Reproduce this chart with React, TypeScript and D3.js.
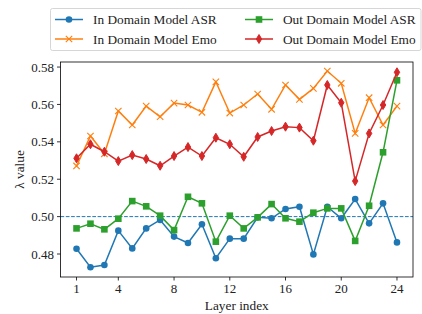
import * as d3 from 'd3';
import React from 'react';

// layer index 1..24
const layers = d3.range(1, 25);

const inAsr = [0.4828, 0.4729, 0.4741, 0.4925, 0.4830, 0.4937, 0.4982, 0.4893, 0.4859, 0.4959, 0.4777, 0.4882,
  0.4882, 0.4996, 0.4991, 0.5041, 0.5053, 0.4798, 0.5053, 0.4991, 0.5094, 0.4964, 0.5071, 0.4862];
const inEmo = [0.5271, 0.5431, 0.5336, 0.5565, 0.5490, 0.5591, 0.5534, 0.5607, 0.5597, 0.5558, 0.5721, 0.5554,
  0.5597, 0.5656, 0.5574, 0.5704, 0.5627, 0.5686, 0.5779, 0.5713, 0.5445, 0.5636, 0.5490, 0.5591];
const outAsr = [0.4937, 0.4962, 0.4932, 0.4989, 0.5083, 0.5055, 0.5005, 0.4928, 0.5106, 0.5071, 0.4866, 0.5005,
  0.4937, 0.4996, 0.5067, 0.4991, 0.4973, 0.5021, 0.5044, 0.5044, 0.4870, 0.5058, 0.5344, 0.5729];
const outEmo = [0.5312, 0.5387, 0.5347, 0.5297, 0.5329, 0.5308, 0.5272, 0.5324, 0.5372, 0.5324, 0.5422, 0.5387,
  0.5320, 0.5426, 0.5458, 0.5481, 0.5476, 0.5406, 0.5704, 0.5609, 0.5190, 0.5445, 0.5597, 0.5772];

const xTicks = [1, 4, 8, 12, 16, 20, 24];
const yTicks = [0.48, 0.5, 0.52, 0.54, 0.56, 0.58];

const series = [
  { name: 'In Domain Model ASR', values: inAsr, color: '#1f77b4', marker: 'circle' },
  { name: 'In Domain Model Emo', values: inEmo, color: '#ff7f0e', marker: 'x' },
  { name: 'Out Domain Model ASR', values: outAsr, color: '#2ca02c', marker: 'square' },
  { name: 'Out Domain Model Emo', values: outEmo, color: '#d62728', marker: 'diamond' },
];

const params = {
  left: 60.5,
  right: 413,
  top: 62,
  bottom: 277,
};

const serif = '"Liberation Serif", "Times New Roman", serif';

const Marker = ({ type, x, y, color }: { type: string; x: number; y: number; color: string }) => {
  if (type === 'circle') return <circle cx={x} cy={y} r={3.3} fill={color} />;
  if (type === 'square') return <rect x={x - 3.3} y={y - 3.3} width={6.6} height={6.6} fill={color} />;
  if (type === 'diamond')
    return <path d={`M${x},${y - 4.5} L${x + 2.7},${y} L${x},${y + 4.5} L${x - 2.7},${y} Z`} fill={color} stroke={color} strokeWidth={1} />;
  return (
    <path d={`M${x - 3.2},${y - 3.2} L${x + 3.2},${y + 3.2} M${x - 3.2},${y + 3.2} L${x + 3.2},${y - 3.2}`} stroke={color} strokeWidth={1.1} fill="none" />
  );
};

export default function App() {
  const x = d3.scaleLinear().domain([-0.15, 25.15]).range([params.left, params.right]);
  const y = d3.scaleLinear().domain([0.4677, 0.5827]).range([params.bottom, params.top]);
  const line = d3.line<number>().x((_, i) => x(layers[i])).y(d => y(d));

  // legend layout: two columns, column-major order like matplotlib
  const legendPos = [
    { lx: 55, ly: 19.5 },
    { lx: 55, ly: 39 },
    { lx: 245, ly: 19.5 },
    { lx: 245, ly: 39 },
  ];

  return (
    <svg width={422} height={314} style={{ position: 'absolute', left: 0, top: 0, background: '#fff' }}>
      {/* reference line at 0.5 */}
      <line x1={params.left} x2={params.right} y1={y(0.5)} y2={y(0.5)} stroke="#1f77b4" strokeWidth={1} strokeDasharray="3.7,1.6" />

      {series.map(s => (
        <g key={s.name}>
          <path d={line(s.values) || ''} fill="none" stroke={s.color} strokeWidth={1.5} />
          {s.values.map((v, i) => (
            <Marker key={i} type={s.marker} x={x(layers[i])} y={y(v)} color={s.color} />
          ))}
        </g>
      ))}

      {/* frame */}
      <rect x={params.left} y={params.top} width={params.right - params.left} height={params.bottom - params.top} fill="none" stroke="#000" strokeWidth={0.8} />

      {/* x axis */}
      {xTicks.map(t => (
        <g key={t} transform={`translate(${x(t)},${params.bottom})`}>
          <line y1={0} y2={3.5} stroke="#000" strokeWidth={0.8} />
          <text y={16} textAnchor="middle" fontFamily={serif} fontSize={13} fill="#222">{t}</text>
        </g>
      ))}
      <text x={(params.left + params.right) / 2} y={309.5} textAnchor="middle" fontFamily={serif} fontSize={13.3} fill="#222">Layer index</text>

      {/* y axis */}
      {yTicks.map(t => (
        <g key={t} transform={`translate(${params.left},${y(t)})`}>
          <line x1={-3.5} x2={0} stroke="#000" strokeWidth={0.8} />
          <text x={-6.5} dy="0.35em" textAnchor="end" fontFamily={serif} fontSize={13} fill="#222">{t.toFixed(2)}</text>
        </g>
      ))}
      <text transform={`translate(24,${(params.top + params.bottom) / 2}) rotate(-90)`} textAnchor="middle" fontFamily={serif} fontSize={13.3} fill="#222">λ value</text>

      {/* legend */}
      <rect x={50.5} y={8.5} width={370.5} height={42} rx={2} fill="#fff" stroke="#ccc" strokeWidth={0.8} />
      {series.map((s, i) => {
        const p = legendPos[i];
        return (
          <g key={s.name}>
            <line x1={p.lx} x2={p.lx + 28} y1={p.ly} y2={p.ly} stroke={s.color} strokeWidth={1.5} />
            <Marker type={s.marker} x={p.lx + 14} y={p.ly} color={s.color} />
            <text x={p.lx + 38} y={p.ly} dy="0.35em" fontFamily={serif} fontSize={13.3} fill="#222">{s.name}</text>
          </g>
        );
      })}
    </svg>
  );
}
